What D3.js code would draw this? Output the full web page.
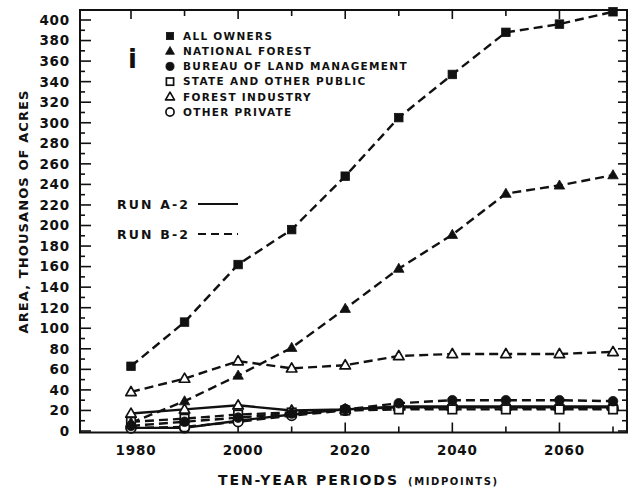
<!DOCTYPE html>
<html><head><meta charset="utf-8">
<script src="https://cdn.jsdelivr.net/npm/d3@7/dist/d3.min.js"></script>
<style>body{margin:0;background:#fff}svg{display:block}text{font-family:"DejaVu Sans",sans-serif;font-weight:bold;fill:#111}</style>
</head><body><svg id="c" width="630" height="488"></svg>
<script>
const years = [1980,1990,2000,2010,2020,2030,2040,2050,2060,2070];
const yTicks = d3.range(0, 401, 20);
const xTickLabels = [1980,2000,2020,2040,2060];
// Run B-2 (dashed)
const allOwners      = [63,106,162,196,248,305,347,388,396,408];
const nationalForest = [8,29,54,81,119,158,191,231,239,249];
const bureauLand     = [5,9,13,17,21,27,30,30,30,29];
const stateOther     = [9,12,16,18,20,21,21,21,21,21];
const forestIndustry = [38,51,68,61,64,73,75,75,75,77];
const otherPrivate   = [3,4,9,15,20,22,23,23,22,22];
// Run A-2 (solid)
const forestIndustryA = [17,21,25,20,21,24,24,24,24,24];
const otherPrivateA   = [3,3,10,16,21,23,23,23,23,23];
const legendNames = ["ALL OWNERS","NATIONAL FOREST","BUREAU OF LAND MANAGEMENT","STATE AND OTHER PUBLIC","FOREST INDUSTRY","OTHER PRIVATE"];
const legendMarks = ["fsq","ftri","fcir","osq","otri","ocir"];
const runLabels = ["RUN A-2","RUN B-2"];

const series = [
  {v: otherPrivateA, m:"ocir", dash:null},
  {v: forestIndustryA, m:"otri", dash:null},
  {v: otherPrivate, m:"ocir", dash:"9,5"},
  {v: stateOther, m:"osq", dash:"9,5"},
  {v: bureauLand, m:"fcir", dash:"9,5"},
  {v: forestIndustry, m:"otri", dash:"9,5"},
  {v: nationalForest, m:"ftri", dash:"9,5"},
  {v: allOwners, m:"fsq", dash:"9,5"}
];

const svg = d3.select("#c");
const x = d3.scaleLinear().domain([1980,2070]).range([131,613]);
const y = d3.scaleLinear().domain([0,400]).range([431,20]);
const L = 80, R = 627, T = 10, B = 432.5;
const ink = "#111";

// frame
svg.append("rect").attr("x",L).attr("y",T).attr("width",R-L).attr("height",B-T)
  .attr("fill","none").attr("stroke",ink).attr("stroke-width",2);

// left/right ticks
const yMinor = d3.range(0, 410, 10);
yMinor.forEach(v=>{
  const major = v%20===0;
  svg.append("line").attr("x1",L).attr("x2",L+(major?11:5)).attr("y1",y(v)).attr("y2",y(v)).attr("stroke",ink).attr("stroke-width",1.6);
  svg.append("line").attr("x1",R).attr("x2",R-(major?9:5)).attr("y1",y(v)).attr("y2",y(v)).attr("stroke",ink).attr("stroke-width",1.6);
});
svg.selectAll(".yl").data(yTicks).join("text")
  .attr("x",70).attr("y",d=>y(d)).attr("dy","0.36em").attr("text-anchor","end")
  .attr("font-size",13.5).attr("letter-spacing",0.8).text(d=>d);

// bottom/top ticks
years.forEach(yr=>{
  const major = (yr-1980)%20===0;
  svg.append("line").attr("x1",x(yr)).attr("x2",x(yr)).attr("y1",B).attr("y2",B-(major?10:6)).attr("stroke",ink).attr("stroke-width",1.6);
  svg.append("line").attr("x1",x(yr)).attr("x2",x(yr)).attr("y1",T).attr("y2",T+(major?9:6)).attr("stroke",ink).attr("stroke-width",1.6);
});
svg.selectAll(".xl").data(xTickLabels).join("text")
  .attr("x",d=>x(d)+5).attr("y",455).attr("text-anchor","middle")
  .attr("font-size",13.5).attr("letter-spacing",0.8).text(d=>d);

// axis titles
svg.append("text").attr("transform","translate(28,212) rotate(-90)")
  .attr("text-anchor","middle").attr("font-size",13).attr("textLength",243).attr("lengthAdjust","spacing")
  .text("AREA, THOUSANOS OF ACRES");
svg.append("text").attr("x",218).attr("y",485).attr("font-size",14).attr("textLength",179).attr("lengthAdjust","spacing").text("TEN-YEAR PERIODS");
svg.append("text").attr("x",408).attr("y",485).attr("font-size",10).attr("textLength",89).attr("lengthAdjust","spacing").text("(MIDPOINTS)");

// marker drawer
function marker(g, type, cx, cy, s){
  s = s||1;
  const filled = type[0]==="f";
  const fill = filled?ink:"#fff";
  const sw = filled?0.8:1.7;
  const shape = type.slice(1);
  if(shape==="sq"){
    const a=8.5*s; g.append("rect").attr("x",cx-a/2).attr("y",cy-a/2).attr("width",a).attr("height",a).attr("fill",fill).attr("stroke",ink).attr("stroke-width",sw);
  } else if(shape==="tri"){
    const a=10.5*s, h=a*0.87;
    g.append("path").attr("d",`M${cx},${cy-h*0.6}L${cx+a/2},${cy+h*0.4}L${cx-a/2},${cy+h*0.4}Z`).attr("fill",fill).attr("stroke",ink).attr("stroke-width",sw).attr("stroke-linejoin","round");
  } else {
    g.append("circle").attr("cx",cx).attr("cy",cy).attr("r",4.8*s).attr("fill",fill).attr("stroke",ink).attr("stroke-width",sw);
  }
}

// series
const line = d3.line().x((d,i)=>x(years[i])).y(d=>y(d));
const gL = svg.append("g");
series.forEach(s=>{
  gL.append("path").attr("d",line(s.v)).attr("fill","none").attr("stroke",ink)
    .attr("stroke-width",2.4).attr("stroke-dasharray",s.dash);
});
const gM = svg.append("g");
series.forEach(s=>{
  s.v.forEach((v,i)=>marker(gM, s.m, x(years[i]), y(v)));
});

// legend
legendNames.forEach((n,i)=>{
  const yy = 36 + i*15.2;
  marker(svg, legendMarks[i], 170, yy, 0.85);
  svg.append("text").attr("x",183).attr("y",yy).attr("dy","0.36em").attr("font-size",10.5).attr("letter-spacing",1.3).text(n);
});
svg.append("text").attr("x",128).attr("y",68).attr("font-size",26).text("i");

// run labels
runLabels.forEach((t,i)=>{
  const yy = 204 + i*30;
  svg.append("text").attr("x",117).attr("y",yy).attr("dy","0.36em").attr("font-size",12.5).attr("textLength",71).attr("lengthAdjust","spacing").text(t);
  svg.append("line").attr("x1",198).attr("x2",238).attr("y1",yy).attr("y2",yy).attr("stroke",ink).attr("stroke-width",1.8)
    .attr("stroke-dasharray",i===1?"8,5":null);
});
</script></body></html>
